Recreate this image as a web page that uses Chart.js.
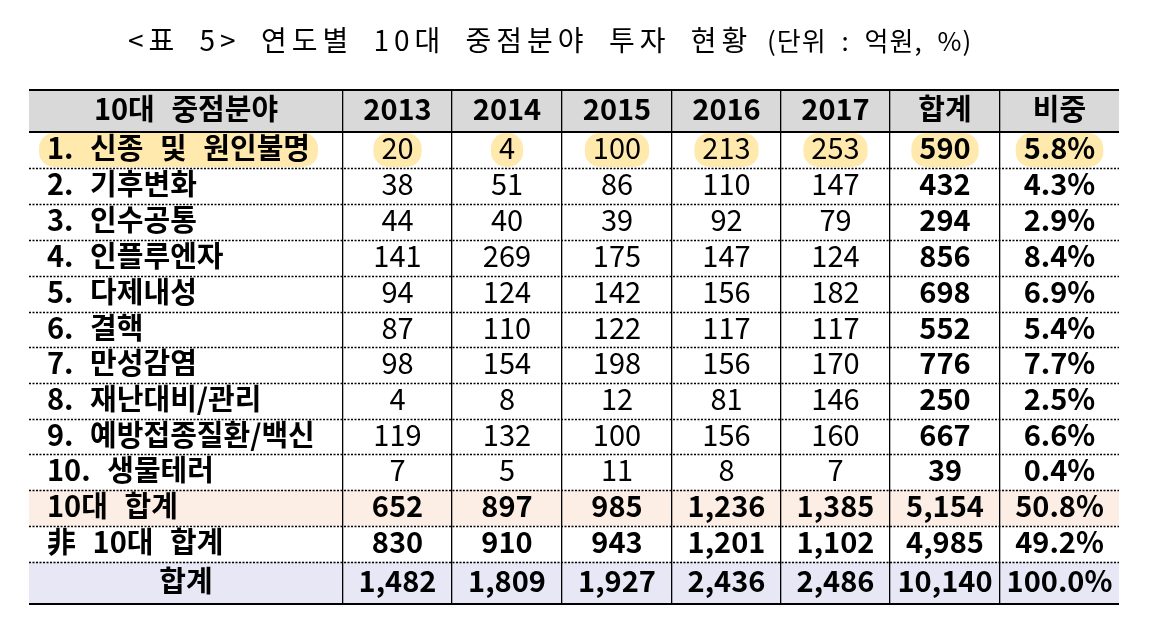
<!DOCTYPE html>
<html>
<head>
<meta charset="utf-8">
<script src="https://cdn.jsdelivr.net/npm/chart.js@4.4.1/dist/chart.umd.min.js"></script>
<style>
  html, body { margin: 0; padding: 0; background: #fff; }
  #wrap { position: relative; width: 1158px; height: 630px; }
  #title {
    position: absolute; left: 128px; top: 22px;
    font-family: "Noto Sans CJK KR", sans-serif; font-size: 28px;
    letter-spacing: 5px; word-spacing: 9px; white-space: pre; color: #000;
    line-height: 34px;
  }
  #title span { font-size: 26px; letter-spacing: 1px; word-spacing: 8px; }
</style>
</head>
<body>
<div id="wrap">
  <div id="title">&lt;표 5&gt; 연도별 10대 중점분야 투자 현황<span> (단위 : 억원, %)</span></div>
  <canvas id="tableChart" width="1158" height="630"></canvas>
</div>
<script>
  // data
  var headLabel = "10대 중점분야";
  var years = ["2013", "2014", "2015", "2016", "2017"];
  var sumLabel = "합계";
  var shareLabel = "비중";
  var fields = ["1. 신종 및 원인불명", "2. 기후변화", "3. 인수공통", "4. 인플루엔자", "5. 다제내성",
    "6. 결핵", "7. 만성감염", "8. 재난대비/관리", "9. 예방접종질환/백신", "10. 생물테러",
    "10대 합계", "非 10대 합계", "합계"];
  var v2013 = [20, 38, 44, 141, 94, 87, 98, 4, 119, 7, 652, 830, 1482];
  var v2014 = [4, 51, 40, 269, 124, 110, 154, 8, 132, 5, 897, 910, 1809];
  var v2015 = [100, 86, 39, 175, 142, 122, 198, 12, 100, 11, 985, 943, 1927];
  var v2016 = [213, 110, 92, 147, 156, 117, 156, 81, 156, 8, 1236, 1201, 2436];
  var v2017 = [253, 147, 79, 124, 182, 117, 170, 146, 160, 7, 1385, 1102, 2486];
  var totals = [590, 432, 294, 856, 698, 552, 776, 250, 667, 39, 5154, 4985, 10140];
  var shares = [5.8, 4.3, 2.9, 8.4, 6.9, 5.4, 7.7, 2.5, 6.6, 0.4, 50.8, 49.2, 100.0];

  // layout (axis units = px inside the table)
  var colEdges = [0, 314, 423, 533, 643, 752, 861, 971, 1090];
  var rowEdges = [0, 42, 78, 114, 150, 186, 222, 257, 293, 329, 364, 400, 436, 472, 514];
  var FONT = '"Noto Sans CJK KR", sans-serif';
  var WS = '10px';

  var yearCols = [v2013, v2014, v2015, v2016, v2017];
  var lastEdge = rowEdges.length - 1;

  function colMid(c) { return (colEdges[c] + colEdges[c + 1]) / 2; }
  function rowMid(r) { return (rowEdges[r] + rowEdges[r + 1]) / 2; }
  function rowH(r) { return rowEdges[r + 1] - rowEdges[r]; }
  function fmt(n) { return n.toLocaleString('en-US'); }
  function edgeTicks(list) { return function (s) { s.ticks = list.map(function (v) { return { value: v }; }); }; }

  function rowBand(r, color) {
    return {
      data: [{ x: [colEdges[0], colEdges[colEdges.length - 1]], y: rowMid(r) }],
      backgroundColor: color,
      barThickness: rowH(r),
      borderWidth: 0
    };
  }

  function rowCells(i) {
    var sumRow = i >= 10;
    var cells = [];
    cells.push({
      col: 0, text: fields[i], align: i === fields.length - 1 ? 'center' : 'left',
      font: 'bold 29px ' + FONT
    });
    yearCols.forEach(function (arr, k) {
      cells.push({ col: k + 1, text: fmt(arr[i]), align: 'center', font: (sumRow ? 'bold ' : '') + '29px ' + FONT });
    });
    cells.push({ col: 6, text: fmt(totals[i]), align: 'center', font: 'bold 29px ' + FONT });
    cells.push({ col: 7, text: shares[i].toFixed(1) + '%', align: 'center', font: 'bold 29px ' + FONT });
    return cells;
  }

  var tableText = {
    id: 'tableText',
    afterDatasetsDraw: function (chart) {
      // yellow highlight behind row 1
      var ctx = chart.ctx, xs = chart.scales.x, ys = chart.scales.y;
      var yc = ys.getPixelForValue(rowMid(1));
      ctx.save();
      ctx.fillStyle = '#ffe9ad';
      ctx.wordSpacing = WS;
      rowCells(0).forEach(function (c) {
        ctx.font = c.font;
        var w = ctx.measureText(c.text).width;
        var x0 = c.align === 'left' ? xs.getPixelForValue(colEdges[0]) + 18 : xs.getPixelForValue(colMid(c.col)) - w / 2;
        var pad = 8;
        ctx.beginPath();
        ctx.roundRect(x0 - pad, yc - 17, w + pad * 2, 34, 15);
        ctx.fill();
      });
      ctx.restore();
    },
    afterDraw: function (chart) {
      var ctx = chart.ctx, xs = chart.scales.x, ys = chart.scales.y;
      var area = chart.chartArea;
      // dotted row separators
      ctx.save();
      ctx.strokeStyle = '#000';
      ctx.lineWidth = 1.3;
      ctx.setLineDash([2, 1.5]);
      rowEdges.slice(2, -1).forEach(function (v) {
        var py = Math.round(ys.getPixelForValue(v)) + 0.5;
        ctx.beginPath();
        ctx.moveTo(area.left, py);
        ctx.lineTo(area.right, py);
        ctx.stroke();
      });
      ctx.restore();

      ctx.save();
      ctx.fillStyle = '#000';
      ctx.textBaseline = 'middle';
      ctx.wordSpacing = WS;
      // header
      var headers = [headLabel].concat(years, [sumLabel, shareLabel]);
      var yh = ys.getPixelForValue(rowMid(0)) - 2;
      ctx.font = 'bold 29px ' + FONT;
      ctx.textAlign = 'center';
      headers.forEach(function (h, c) {
        ctx.fillText(h, xs.getPixelForValue(colMid(c)), yh);
      });
      for (var i = 0; i < fields.length; i++) {
        var y = ys.getPixelForValue(rowMid(i + 1)) - 2;
        rowCells(i).forEach(function (c) {
          ctx.font = c.font;
          ctx.textAlign = c.align;
          var x = c.align === 'left' ? xs.getPixelForValue(colEdges[0]) + 18 : xs.getPixelForValue(colMid(c.col));
          ctx.fillText(c.text, x, y);
        });
      }
      ctx.restore();
    }
  };

  var zeroW = function (s) { s.width = 0; };
  var zeroH = function (s) { s.height = 0; };

  var ctxT = document.getElementById('tableChart').getContext('2d');
  var tableChart = new Chart(ctxT, {
    type: 'bar',
    data: {
      datasets: [
        rowBand(0, '#d9d9d9'),
        rowBand(11, '#fdeee5'),
        rowBand(13, '#e7e7f5')
      ]
    },
    options: {
      responsive: false,
      animation: false,
      indexAxis: 'y',
      grouped: false,
      layout: { padding: { left: 29, right: 39, top: 90, bottom: 26 } },
      plugins: { legend: { display: false }, tooltip: { enabled: false } },
      scales: {
        x: {
          type: 'linear', min: colEdges[0], max: colEdges[colEdges.length - 1], offset: false,
          afterFit: zeroH,
          afterBuildTicks: edgeTicks(colEdges.slice(1, -1)),
          ticks: { display: false },
          grid: { color: '#000', lineWidth: 1.3, drawTicks: false, offset: false, z: 1 },
          border: { display: false }
        },
        y: {
          type: 'linear', reverse: true, min: rowEdges[0], max: rowEdges[lastEdge], offset: false,
          afterFit: zeroW,
          ticks: { display: false },
          grid: { display: false },
          border: { display: false }
        },
        lines: {
          type: 'linear', axis: 'y', position: 'right', reverse: true, min: rowEdges[0], max: rowEdges[lastEdge], offset: false,
          afterFit: zeroW,
          afterBuildTicks: edgeTicks([rowEdges[0], rowEdges[1], rowEdges[lastEdge]]),
          ticks: { display: false },
          grid: { color: '#000', lineWidth: 2, drawTicks: false, offset: false, z: 1 },
          border: { display: false }
        }
      }
    },
    plugins: [tableText]
  });
</script>
</body>
</html>
